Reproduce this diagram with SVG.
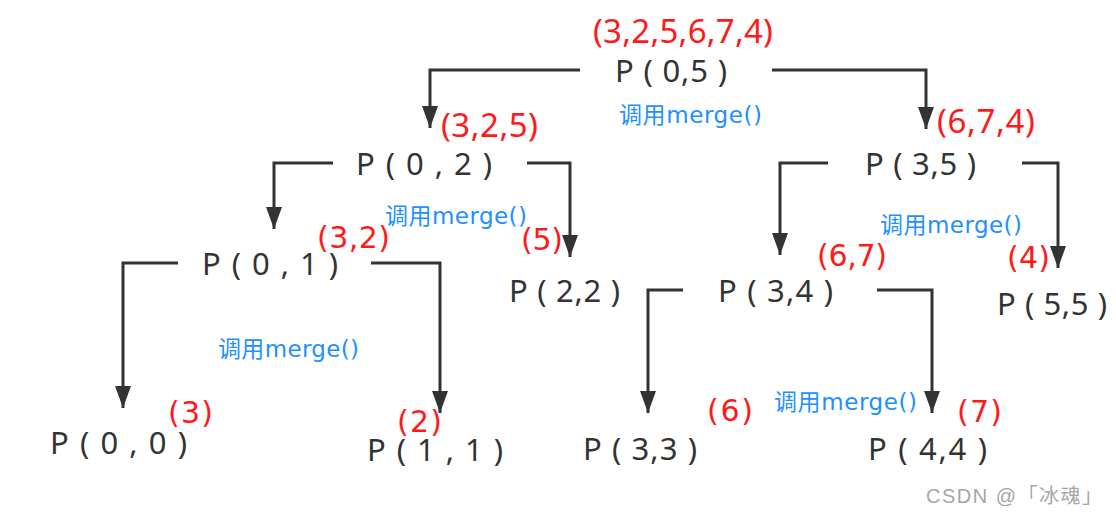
<svg xmlns="http://www.w3.org/2000/svg" width="1116" height="517" viewBox="0 0 1116 517">
<style>
.p{font-family:"Noto Sans","Open Sans","Noto Sans CJK SC",sans-serif;font-size:31px;fill:#333}
.r{font-family:"Noto Sans","Noto Sans CJK SC",sans-serif;font-size:33px;fill:#ff1a1a}
.rs{font-family:"DejaVu Sans","Noto Sans",sans-serif;font-size:30px}
.b{font-family:"DejaVu Sans","Noto Sans CJK SC",sans-serif;font-size:23px;fill:#1e90ff}
.w{font-family:"Liberation Sans","Noto Sans CJK SC",sans-serif;font-size:20px;fill:#a6a6a6}
.c{fill:none;stroke:#333;stroke-width:3}
</style>
<defs>
<marker id="a" markerUnits="userSpaceOnUse" markerWidth="22" markerHeight="16" viewBox="0 0 22 16" refX="22" refY="8" orient="auto">
<path d="M0,0 L22,8 L0,16 Z" fill="#333"/>
</marker>
</defs>
<rect width="1116" height="517" fill="#fff"/>
<g id="connectors">
<polyline class="c" points="580,70 430,70 430,128" marker-end="url(#a)"/>
<polyline class="c" points="772,70 926,70 926,129" marker-end="url(#a)"/>
<polyline class="c" points="333,163 274,163 274,229" marker-end="url(#a)"/>
<polyline class="c" points="527,163 570,163 570,257" marker-end="url(#a)"/>
<polyline class="c" points="828,163 780,163 780,255" marker-end="url(#a)"/>
<polyline class="c" points="1022,163 1058,163 1058,268" marker-end="url(#a)"/>
<polyline class="c" points="178,263 123,263 123,408" marker-end="url(#a)"/>
<polyline class="c" points="371,263 440,263 440,413" marker-end="url(#a)"/>
<polyline class="c" points="683,290 648,290 648,413" marker-end="url(#a)"/>
<polyline class="c" points="877,290 932,290 932,413" marker-end="url(#a)"/>
</g>
<g id="n05">
<text class="r" x="593" y="43" textLength="180" lengthAdjust="spacing">(3,2,5,6,7,4)</text>
<text class="p" x="615" y="82" textLength="112" lengthAdjust="spacing">P ( 0,5 )</text>
<text class="b" x="619" y="123" textLength="143" lengthAdjust="spacing">调用merge()</text>
</g>
<g id="n02">
<text class="r" x="441" y="137" textLength="97" lengthAdjust="spacing">(3,2,5)</text>
<text class="p" x="356" y="175" textLength="136" lengthAdjust="spacing">P ( 0 , 2 )</text>
<text class="b" x="385" y="224" textLength="142" lengthAdjust="spacing">调用merge()</text>
</g>
<g id="n35">
<text class="r" x="937" y="133" textLength="98" lengthAdjust="spacing">(6,7,4)</text>
<text class="p" x="865" y="175" textLength="111" lengthAdjust="spacing">P ( 3,5 )</text>
<text class="b" x="880" y="233" textLength="142" lengthAdjust="spacing">调用merge()</text>
</g>
<g id="n01">
<text class="r rs" x="317" y="248" textLength="73" lengthAdjust="spacing">(3,2)</text>
<text class="p" x="202" y="275" textLength="136" lengthAdjust="spacing">P ( 0 , 1 )</text>
<text class="b" x="218" y="357" textLength="141" lengthAdjust="spacing">调用merge()</text>
</g>
<g id="n22">
<text class="r rs" x="521" y="250" textLength="42" lengthAdjust="spacing">(5)</text>
<text class="p" x="509" y="302" textLength="111" lengthAdjust="spacing">P ( 2,2 )</text>
</g>
<g id="n34">
<text class="r rs" x="817" y="266" textLength="70" lengthAdjust="spacing">(6,7)</text>
<text class="p" x="718" y="302" textLength="115" lengthAdjust="spacing">P ( 3,4 )</text>
<text class="b" x="774" y="410" textLength="143" lengthAdjust="spacing">调用merge()</text>
</g>
<g id="n55">
<text class="r rs" x="1007" y="268" textLength="43" lengthAdjust="spacing">(4)</text>
<text class="p" x="997" y="315" textLength="110" lengthAdjust="spacing">P ( 5,5 )</text>
</g>
<g id="n00">
<text class="r rs" x="168" y="423" textLength="45" lengthAdjust="spacing">(3)</text>
<text class="p" x="50" y="454" textLength="137" lengthAdjust="spacing">P ( 0 , 0 )</text>
</g>
<g id="n11">
<text class="r rs" x="397" y="432" textLength="45" lengthAdjust="spacing">(2)</text>
<text class="p" x="367" y="461" textLength="136" lengthAdjust="spacing">P ( 1 , 1 )</text>
</g>
<g id="n33">
<text class="r rs" x="707" y="421" textLength="46" lengthAdjust="spacing">(6)</text>
<text class="p" x="583" y="460" textLength="114" lengthAdjust="spacing">P ( 3,3 )</text>
</g>
<g id="n44">
<text class="r rs" x="957" y="422" textLength="45" lengthAdjust="spacing">(7)</text>
<text class="p" x="868" y="460" textLength="119" lengthAdjust="spacing">P ( 4,4 )</text>
</g>
<text class="w" x="926" y="503" textLength="176" lengthAdjust="spacing">CSDN @「冰魂」</text>
</svg>
